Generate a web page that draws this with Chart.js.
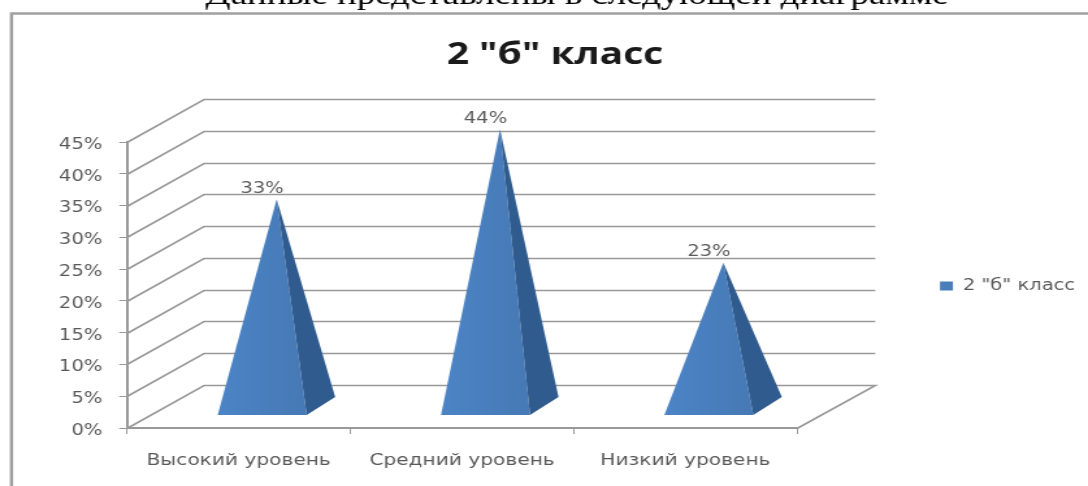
<!DOCTYPE html>
<html><head><meta charset="utf-8">
<style>html,body{margin:0;padding:0;background:#fff;overflow:hidden}
#w{position:relative;width:1088px;height:486px;overflow:hidden}
canvas{display:block;transform-origin:0 0;transform:scaleX(1.29988)}</style>
<script src="https://cdn.jsdelivr.net/npm/chart.js@4"></script>
</head><body><div id="w"><canvas id="c" width="837" height="486"></canvas></div>
<script>
const categories = ['Высокий уровень','Средний уровень','Низкий уровень'];
const seriesName = '2 "б" класс';
const values = [33,44,23];
const yMax = 45, yStep = 5;
const pageHeading = 'Данные представлены в следующей диаграмме';

const S=1088/837;                // the reference picture is stretched sideways
const TEXT='#595959', GRID='#999999', BLUE='#4a7ebb', SIDE='#2f5b8e';
const DX=77/S, DY=43;
const BASE_DX=23.5/S, HALF=44.5/S, BACK_DX=28.5/S, BACK_DY=18, FRONT_INSET=13, APEX_DX=14.5/S;
const LEGEND_W=(1088-797)/S;

const pyramid3d={
  id:'pyramid3d',
  beforeLayout(chart){
    const l=chart.legend;
    if(l&&!l._wrapped){
      const fit=l.fit;
      l.fit=function(){fit.call(this);this.width=LEGEND_W;};
      l._wrapped=true;
    }
  },
  afterLayout(chart){
    const l=chart.legend; if(l){l.top+=43;l.bottom+=43;}
  },
  beforeDraw(chart){
    const c=chart.ctx,a=chart.chartArea,y=chart.scales.y;
    c.save();
    c.strokeStyle='#a0a0a0';c.lineWidth=2.5;
    c.beginPath();c.moveTo(900,13.5);c.lineTo(11.5/S,13.5);c.lineTo(11.5/S,500);c.stroke();
    c.fillStyle='#000';c.font='28.4px "Liberation Serif"';c.textAlign='center';c.textBaseline='alphabetic';
    c.fillText(pageHeading,577/S,4);
    c.strokeStyle=GRID;c.lineWidth=1.6;
    y.ticks.forEach(t=>{
      const p=Math.round(y.getPixelForValue(t.value))+.5;
      c.beginPath();c.moveTo(a.left,p);c.lineTo(a.left+DX,p-DY);c.lineTo(a.right+DX+1,p-DY);
      if(t.value===0)c.lineTo(a.right,p);
      c.stroke();
    });
    c.restore();
  },
  beforeDatasetDraw(chart,args){
    const c=chart.ctx,y=chart.scales.y,meta=args.meta;
    const base=y.getPixelForValue(0);
    c.save();
    meta.data.forEach((bar,i)=>{
      const v=values[i], cx=bar.x+BASE_DX, by=base-FRONT_INSET;
      const ax=cx+APEX_DX, ay=base-19+(y.getPixelForValue(v)-base);
      const L=cx-HALF,R=cx+HALF,Bx=R+BACK_DX,By=by-BACK_DY;
      const g=c.createLinearGradient(L,0,R,0);
      g.addColorStop(0,'#4c84c6');g.addColorStop(1,'#4679b5');
      c.fillStyle=g;
      c.beginPath();c.moveTo(L,by);c.lineTo(R,by);c.lineTo(ax,ay);c.closePath();c.fill();
      c.fillStyle=SIDE;
      c.beginPath();c.moveTo(R,by);c.lineTo(Bx,By);c.lineTo(ax,ay);c.closePath();c.fill();
      c.fillStyle=TEXT;c.font='15px "DejaVu Sans"';c.textAlign='center';c.textBaseline='middle';
      c.fillText(v+'%',cx,ay-10.5);
    });
    c.restore();
    return false;
  }
};

new Chart(document.getElementById('c'),{
  type:'bar',
  data:{labels:categories,datasets:[{label:seriesName,data:values,backgroundColor:BLUE,borderWidth:0}]},
  plugins:[pyramid3d],
  options:{
    responsive:false,animation:false,
    layout:{padding:{left:22/S,top:0,right:0,bottom:0}},
    plugins:{
      tooltip:{enabled:false},
      title:{display:true,text:seriesName,color:'#1a1a1a',
        font:{family:'"Open Sans"',size:30,weight:'bold'},padding:{top:37,bottom:69}},
      legend:{display:true,position:'right',align:'center',
        labels:{boxWidth:10,boxHeight:9,padding:110,color:TEXT,font:{family:'"DejaVu Sans"',size:15}}}
    },
    scales:{
      x:{
        afterFit(s){s.height=58;},
        grid:{drawOnChartArea:false,drawTicks:true,tickLength:6,color:GRID},
        border:{color:GRID,width:2},
        ticks:{color:TEXT,padding:18,maxRotation:0,autoSkip:false,font:{family:'"DejaVu Sans"',size:15.5}}
      },
      y:{
        min:0,max:yMax,
        afterFit(s){s.width=105/S;},
        grid:{drawOnChartArea:false,drawTicks:true,tickLength:6,color:GRID},
        border:{color:GRID,width:2},
        ticks:{stepSize:yStep,color:TEXT,padding:13,labelOffset:3,font:{family:'"DejaVu Sans"',size:15},callback:v=>v+'%'}
      }
    }
  }
});
</script></body></html>
